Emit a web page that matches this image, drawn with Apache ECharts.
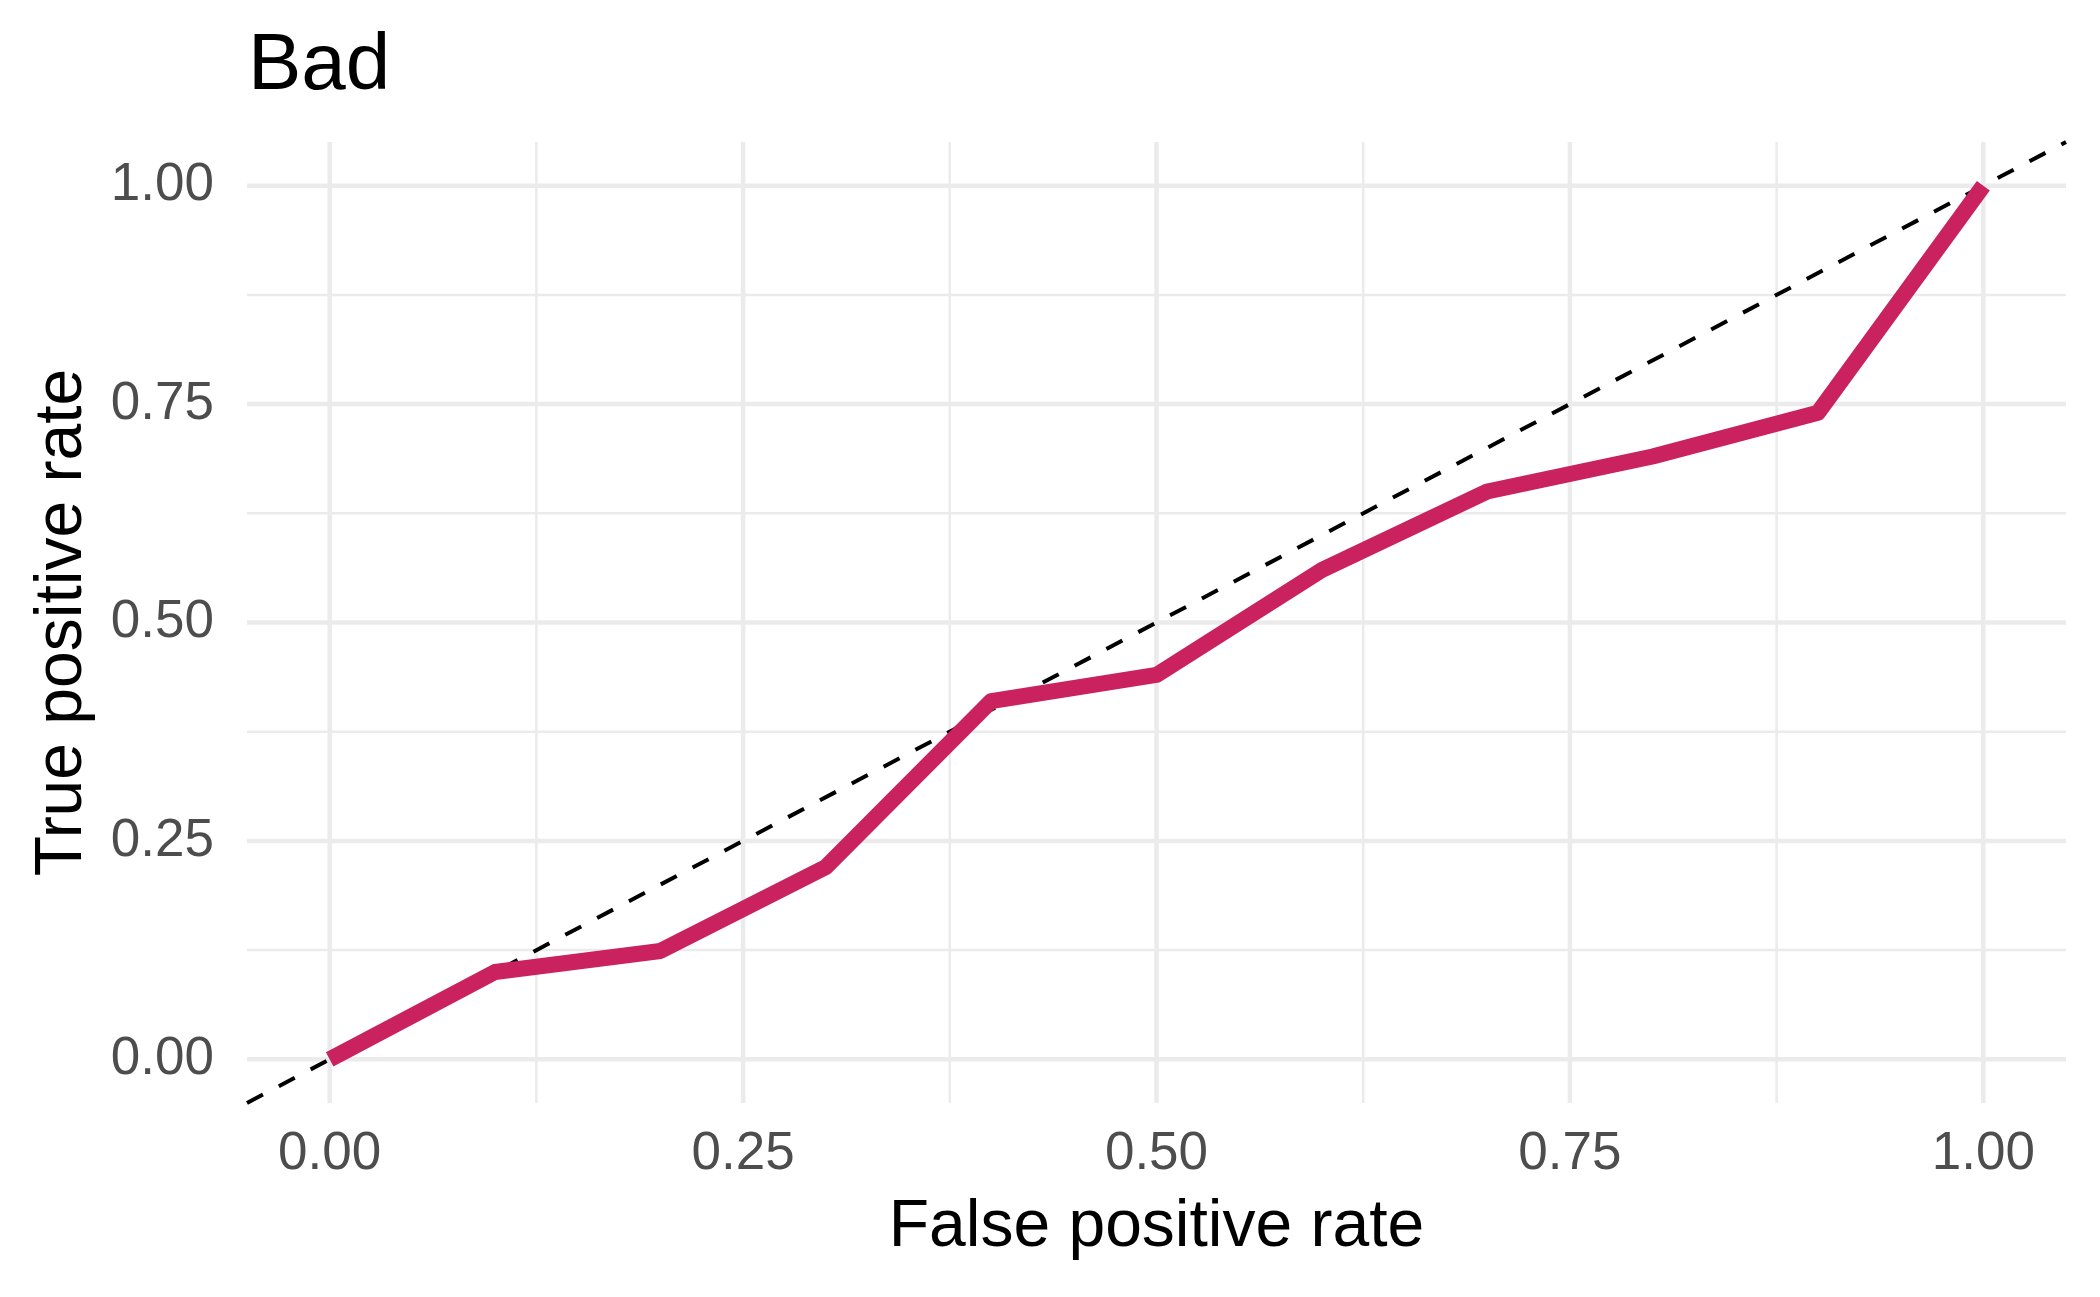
<!DOCTYPE html>
<html>
<head>
<meta charset="utf-8">
<script src="https://cdn.jsdelivr.net/npm/echarts@6/dist/echarts.min.js"></script>
<style>
html,body{margin:0;padding:0;background:#fff;}
#chart{width:2100px;height:1297px;}
</style>
</head>
<body>
<div id="chart"></div>
<script>
// ---- data ----
const fpr = [0, 0.1, 0.2, 0.3, 0.4, 0.5, 0.6, 0.7, 0.8, 0.9, 1.0];
const tpr = [0, 0.10, 0.124, 0.22, 0.41, 0.44, 0.56, 0.65, 0.69, 0.74, 1.0];
const majorTicks = [0, 0.25, 0.5, 0.75, 1.0];
const minorTicks = [0.125, 0.375, 0.625, 0.875];
const axisMin = -0.05;
const axisMax = 1.05;
const titleText = 'Bad';
const xTitle = 'False positive rate';
const yTitle = 'True positive rate';

const FONT = "'Liberation Sans', Arial, Helvetica, sans-serif";
const GRID_COLOR = '#EBEBEB';

function gridSeries(ticks, width) {
  const out = [];
  ticks.forEach(t => {
    out.push({
      type: 'line', silent: true, symbol: 'none', z: 1, animation: false,
      lineStyle: { color: GRID_COLOR, width: width, cap: 'butt' },
      data: [[t, axisMin], [t, axisMax]]
    });
    out.push({
      type: 'line', silent: true, symbol: 'none', z: 1, animation: false,
      lineStyle: { color: GRID_COLOR, width: width, cap: 'butt' },
      data: [[axisMin, t], [axisMax, t]]
    });
  });
  return out;
}

const chart = echarts.init(document.getElementById('chart'), null, { renderer: 'canvas' });

const option = {
  animation: false,
  backgroundColor: '#ffffff',
  title: {
    text: titleText,
    left: 248,
    top: 27,
    padding: 0,
    textStyle: { fontFamily: FONT, fontSize: 80, fontWeight: 'normal', color: '#000000' }
  },
  grid: { left: 247, right: 34, top: 142, bottom: 194, containLabel: false },
  xAxis: {
    type: 'value', min: axisMin, max: axisMax,
    name: xTitle, nameLocation: 'middle', nameGap: 92,
    nameTextStyle: { fontFamily: FONT, fontSize: 66, color: '#000000' },
    axisLine: { show: false }, axisTick: { show: false }, splitLine: { show: false },
    axisLabel: {
      customValues: majorTicks,
      formatter: v => Number(v).toFixed(2),
      margin: 25,
      fontFamily: FONT, fontSize: 53, color: '#4D4D4D'
    }
  },
  yAxis: {
    type: 'value', min: axisMin, max: axisMax,
    name: yTitle, nameLocation: 'middle', nameGap: 151, nameRotate: 90,
    nameTextStyle: { fontFamily: FONT, fontSize: 66, color: '#000000' },
    axisLine: { show: false }, axisTick: { show: false }, splitLine: { show: false },
    axisLabel: {
      customValues: majorTicks,
      formatter: v => Number(v).toFixed(2),
      margin: 33,
      fontFamily: FONT, fontSize: 53, color: '#4D4D4D'
    }
  },
  series: [
    ...gridSeries(minorTicks, 2.5),
    ...gridSeries(majorTicks, 4.5),
    {
      type: 'line', silent: true, symbol: 'none', z: 3,
      lineStyle: { color: '#000000', width: 4, type: [18, 18], cap: 'butt' },
      data: [[axisMin, axisMin], [axisMax, axisMax]]
    },
    {
      type: 'line', symbol: 'none', z: 4,
      lineStyle: { color: '#C9225E', width: 16, cap: 'butt', join: 'round' },
      data: fpr.map((x, i) => [x, tpr[i]])
    }
  ]
};
chart.setOption(option);
</script>
</body>
</html>
